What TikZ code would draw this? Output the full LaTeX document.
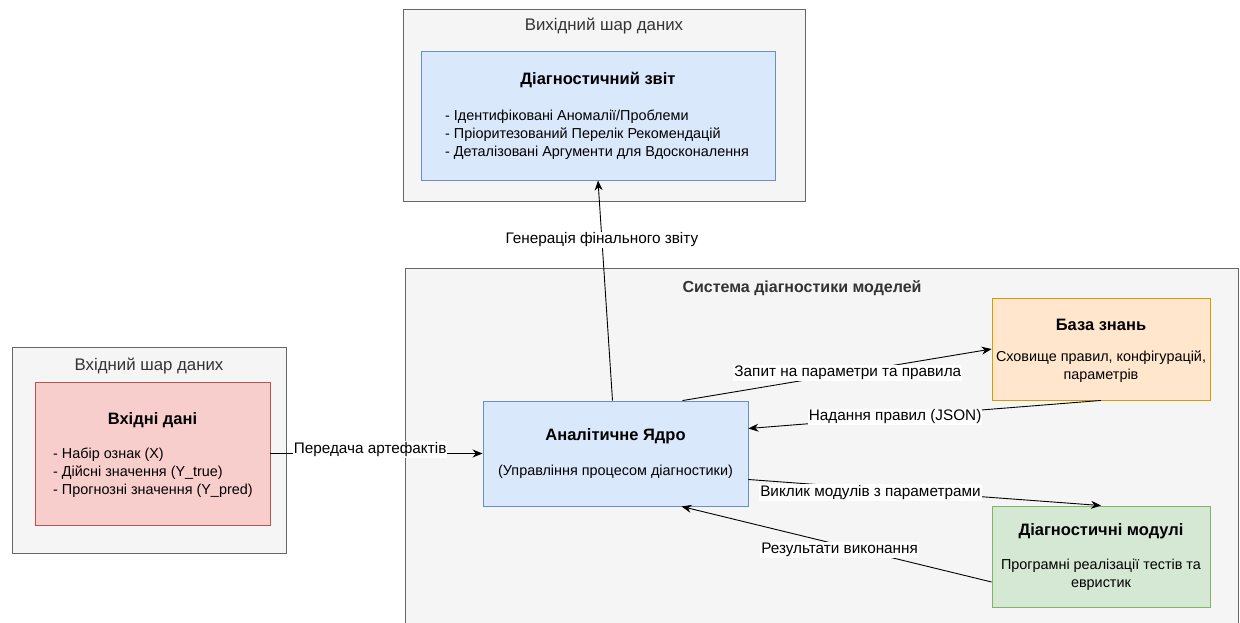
\documentclass[tikz,border=0pt]{standalone}
\usepackage{fontspec}
\setmainfont{Liberation Sans}
\usetikzlibrary{arrows.meta,calc}
\definecolor{contfill}{HTML}{F5F5F5}
\definecolor{contdraw}{HTML}{666666}
\definecolor{conttext}{HTML}{333333}
\definecolor{bluefill}{HTML}{DAE8FC}
\definecolor{bluedraw}{HTML}{6C8EBF}
\definecolor{redfill}{HTML}{F8CECC}
\definecolor{reddraw}{HTML}{B85450}
\definecolor{orangefill}{HTML}{FFE6CC}
\definecolor{orangedraw}{HTML}{D79B00}
\definecolor{greenfill}{HTML}{D5E8D4}
\definecolor{greendraw}{HTML}{82B366}
\tikzset{
  container/.style={draw=contdraw, fill=contfill, line width=0.9pt, inner sep=0pt},
  card/.style={line width=0.9pt, inner sep=0pt},
  conttitle/.style={text=conttext, font=\fontsize{16.8}{19}\selectfont, inner sep=0pt},
  boxtitle/.style={font=\fontsize{16.5}{19}\selectfont\bfseries, inner sep=0pt},
  boxtext/.style={font=\fontsize{14.4}{18}\selectfont, inner sep=0pt, align=left},
  boxtextc/.style={font=\fontsize{14.4}{18}\selectfont, inner sep=0pt, align=center},
  conn/.style={draw=black, line width=0.9pt, -{Stealth[length=10pt,width=8pt]}},
  elabel/.style={fill=white, font=\fontsize{15.3}{17}\selectfont, inner sep=1pt}
}
\begin{document}
\begin{tikzpicture}[x=1pt,y=-1pt]
\useasboundingbox (0,0) rectangle (1240,623);

% containers
\node[container, minimum width=402pt, minimum height=192pt] (outlayer) at (604,105) {};
\node[conttitle] (outtitle) at (604,26) {Вихідний шар даних};

\draw[container] (405,623.5) -- (405,268) -- (1238,268) -- (1238,623.5);
\node[font=\fontsize{16}{19}\selectfont\bfseries, text=conttext, inner sep=0pt] (systitle) at (802,288) {Система діагностики моделей};

\node[container, minimum width=274pt, minimum height=206pt] (inlayer) at (149,450) {};
\node[conttitle] (intitle) at (149,366) {Вхідний шар даних};

% report
\node[card, draw=bluedraw, fill=bluefill, minimum width=354pt, minimum height=129pt] (report) at (598,115.5) {};
\node[boxtitle] (reporttitle) at (598,80) {Діагностичний звіт};
\node[boxtext, anchor=west] (reporttext) at (445,134.5) {- Ідентифіковані Аномалії/Проблеми\\- Пріоритезований Перелік Рекомендацій\\- Деталізовані Аргументи для Вдосконалення};

% input
\node[card, draw=reddraw, fill=redfill, minimum width=235pt, minimum height=143pt] (input) at (152.5,453.5) {};
\node[boxtitle] (inputtitle) at (152.5,420) {Вхідні дані};
\node[boxtext, anchor=west] (inputtext) at (53,472.5) {- Набір ознак (X)\\- Дійсні значення (Y\_true)\\- Прогнозні значення (Y\_pred)};

% core
\node[card, draw=bluedraw, fill=bluefill, minimum width=265pt, minimum height=105pt] (core) at (615.5,453.5) {};
\node[boxtitle] (coretitle) at (615.5,436) {Аналітичне Ядро};
\node[boxtextc] (coretext) at (615.5,472) {(Управління процесом діагностики)};

% knowledge base
\node[card, draw=orangedraw, fill=orangefill, minimum width=218pt, minimum height=102pt] (kb) at (1101,349) {};
\node[boxtitle] (kbtitle) at (1101,325) {База знань};
\node[boxtextc] (kbtext) at (1101,367) {Сховище правил, конфігурацій,\\параметрів};

% diagnostic modules
\node[card, draw=greendraw, fill=greenfill, minimum width=218pt, minimum height=101pt] (dm) at (1101,556.5) {};
\node[boxtitle] (dmtitle) at (1101,531) {Діагностичні модулі};
\node[boxtextc] (dmtext) at (1101,574.5) {Програмні реалізації тестів та\\евристик};

% connectors
\draw[conn] ([xshift=-3pt]core.north) -- node[elabel, pos=0.73] {Генерація фінального звіту} (report.south);
\draw[conn] (input.east) -- node[elabel, pos=0.47, yshift=4pt] {Передача артефактів} (core.west);
\draw[conn] ([xshift=67pt]core.north) -- node[elabel, pos=0.535] {Запит на параметри та правила} (kb.west);
\draw[conn] (kb.south) -- node[elabel, pos=0.584] {Надання правил (JSON)} ([yshift=25pt]core.east);
\draw[conn] ([yshift=-26pt]core.east) -- node[elabel, pos=0.346, yshift=-4pt] {Виклик модулів з параметрами} (dm.north);
\draw[conn] ([yshift=-25.5pt]dm.west) -- node[elabel, pos=0.49, yshift=-5pt] {Результати виконання} ([xshift=66pt]core.south);
\end{tikzpicture}
\end{document}
